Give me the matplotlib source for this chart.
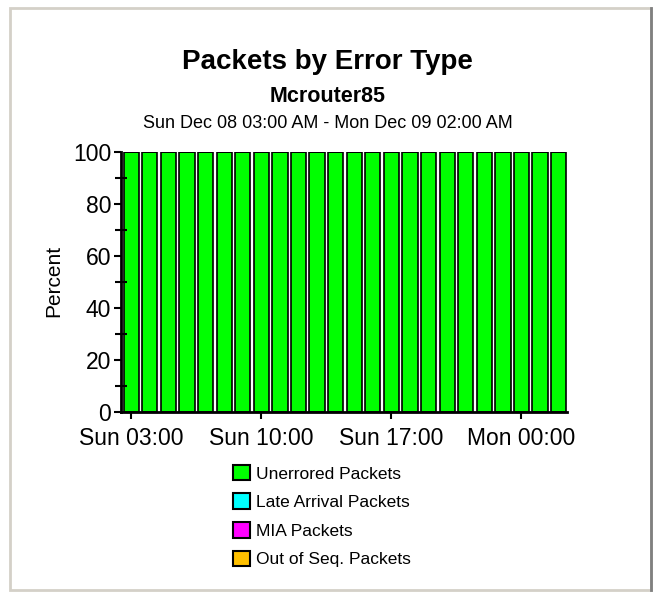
import matplotlib.pyplot as plt
from matplotlib.patches import Patch, Rectangle
from matplotlib.ticker import MultipleLocator

plt.rcParams['font.family'] = ['Liberation Sans', 'DejaVu Sans']

# hourly samples, Sun 03:00 .. Mon 02:00
hours = list(range(24))
unerrored = [100, 100, 100, 100, 100, 100, 100, 100, 100, 100, 100, 100,
             100, 100, 100, 100, 100, 100, 100, 100, 100, 100, 100, 100]
late_arrival = [0] * 24
mia = [0] * 24
out_of_seq = [0] * 24

tick_hours = [0, 7, 14, 21]
tick_labels = ['Sun 03:00', 'Sun 10:00', 'Sun 17:00', 'Mon 00:00']

series = [
    ('Unerrored Packets', unerrored, '#00ff00'),
    ('Late Arrival Packets', late_arrival, '#00ffff'),
    ('MIA Packets', mia, '#ff00ff'),
    ('Out of Seq. Packets', out_of_seq, '#ffc000'),
]

fig = plt.figure(figsize=(6.55, 5.94), dpi=100)
fig.patch.set_facecolor('white')

# panel border
fig.add_artist(Rectangle((10 / 655, 4 / 594), 641 / 655, 582 / 594,
                         transform=fig.transFigure, fill=False,
                         edgecolor='#d4d0c8', linewidth=2))
fig.add_artist(plt.Line2D([651 / 655, 651 / 655], [4 / 594, 586 / 594],
                          transform=fig.transFigure, color='#808080', linewidth=2))

ax = fig.add_axes([121 / 655, 1 - 412 / 594, 446 / 655, 260 / 594])

bottom = [0] * 24
for name, vals, col in series:
    ax.bar(hours, vals, width=0.82, bottom=bottom, color=col,
           edgecolor='black', linewidth=1.2, label=name)
    bottom = [b + v for b, v in zip(bottom, vals)]

ax.set_xlim(-0.55, 23.45)
ax.set_ylim(0, 100)
ax.set_xticks(tick_hours)
ax.set_xticklabels(tick_labels)
ax.yaxis.set_major_locator(MultipleLocator(20))
ax.yaxis.set_minor_locator(MultipleLocator(10))
ax.tick_params(axis='both', labelsize=16.5, width=1.5, length=5, direction='out', pad=2)
ax.tick_params(axis='y', which='minor', width=1.5, length=8, direction='inout')
ax.tick_params(axis='x', pad=6)

for s in ['top', 'right']:
    ax.spines[s].set_visible(False)
for s in ['left', 'bottom']:
    ax.spines[s].set_linewidth(2)

fig.text(54 / 655, 1 - 281 / 594, 'Percent', rotation=90, ha='center',
         va='center', fontsize=15)

fig.text(0.5, 1 - 62 / 594, 'Packets by Error Type', ha='center', va='center',
         fontsize=20, fontweight='bold')
fig.text(0.5, 1 - 97 / 594, 'Mcrouter85', ha='center', va='center',
         fontsize=15.5, fontweight='bold')
fig.text(0.5, 1 - 123 / 594, 'Sun Dec 08 03:00 AM - Mon Dec 09 02:00 AM',
         ha='center', va='center', fontsize=13)

handles = [Patch(facecolor=col, edgecolor='black', linewidth=1.5, label=name)
           for name, _, col in series]
fig.legend(handles=handles, loc='upper left',
           bbox_to_anchor=(226 / 655, 1 - 458 / 594), frameon=False,
           fontsize=12.5, handlelength=1.0, handleheight=1.0,
           handletextpad=0.3, labelspacing=0.68, borderaxespad=0)

fig.savefig('out.png', dpi=100)
